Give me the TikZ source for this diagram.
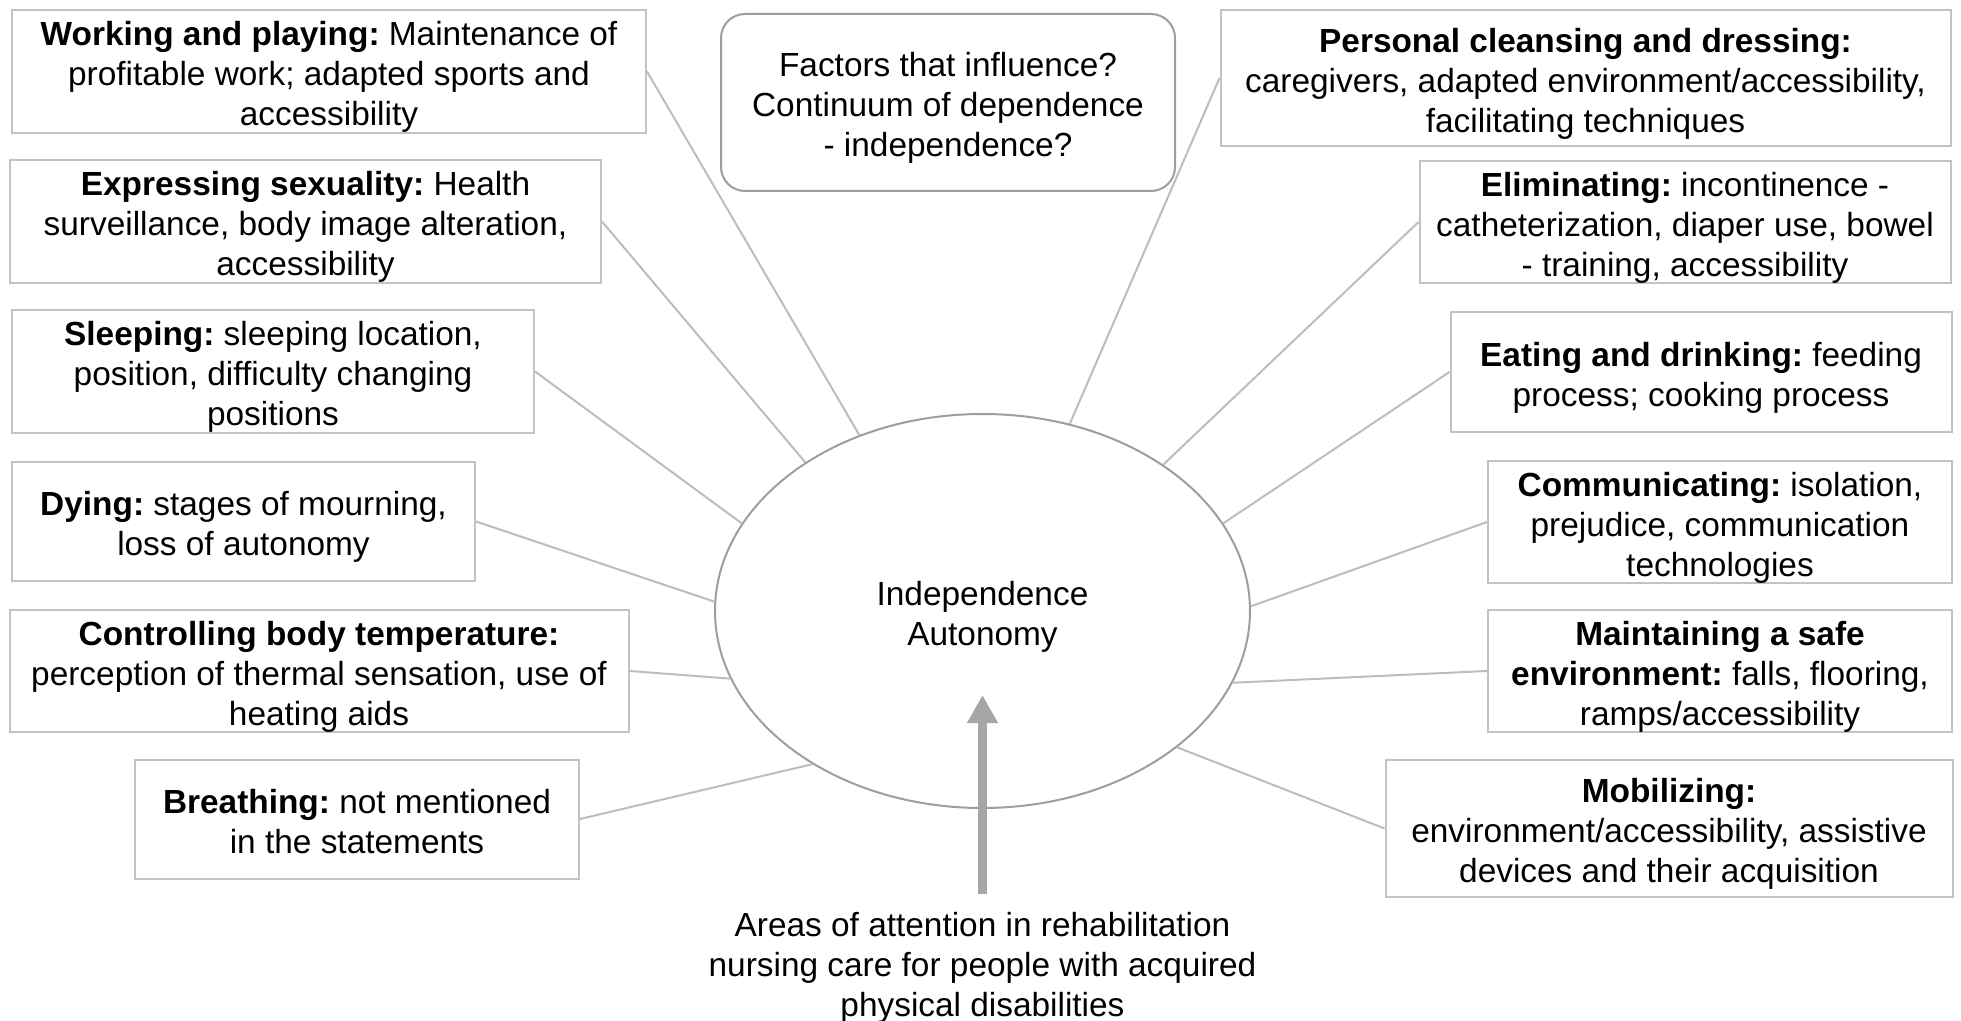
\documentclass[tikz,border=0pt]{standalone}
\usepackage{fontspec}
\setmainfont{Liberation Sans}
\usetikzlibrary{shapes.geometric,arrows.meta}
\definecolor{boxgray}{HTML}{C3C3C3}
\definecolor{linegray}{HTML}{BDBDBD}
\definecolor{ellgray}{HTML}{9E9E9E}
\definecolor{arrowgray}{HTML}{A6A6A6}
\newcommand{\st}{\rule{0pt}{1.055em}}
\newcommand{\sd}{\rule[-0.212em]{0pt}{0pt}}
\frenchspacing
\begin{document}
\begin{tikzpicture}[x=0.5pt,y=-0.5pt,
  every node/.style={font=\fontsize{16.7pt}{20pt}\selectfont\frenchspacing, align=center, inner sep=0pt},
  area/.style={draw=boxgray, line width=1pt, rectangle},
  link/.style={draw=linegray, line width=1pt}]
\useasboundingbox[fill=white] (0,0) rectangle (1961,1021);

% left column
\node[area, minimum width=317pt, minimum height=59.5pt] (work) at (329,71.5)
  {\st\textbf{Working and playing:} Maintenance of\\profitable work; adapted sports and\\accessibility\sd};
\node[area, minimum width=295.5pt, minimum height=59.5pt] (sex) at (305.5,221.5)
  {\st\textbf{Expressing sexuality:} Health\\surveillance, body image alteration,\\accessibility\sd};
\node[area, minimum width=261pt, minimum height=59.5pt] (sleep) at (273,371.5)
  {\st\textbf{Sleeping:} sleeping location,\\position, difficulty changing\\positions\sd};
\node[area, minimum width=231.5pt, minimum height=59.5pt] (dying) at (243.5,521.5)
  {\st\textbf{Dying:} stages of mourning,\\loss of autonomy\sd};
\node[area, minimum width=309.5pt, minimum height=59.5pt] (temp) at (319,671)
  {\st\textbf{Controlling body temperature:}\\perception of thermal sensation, use of\\heating aids\sd};
\node[area, minimum width=222pt, minimum height=59.5pt] (breath) at (357,819)
  {\st\textbf{Breathing:} not mentioned\\in the statements\sd};

% top centre
\node[draw=ellgray, line width=1pt, rounded corners=12pt, minimum width=227pt, minimum height=88.5pt] (factors) at (948,102.5)
  {\st Factors that influence?\\Continuum of dependence\\- independence?\sd};

% right column
\node[area, minimum width=365pt, minimum height=68pt] (personal) at (1585.5,78)
  {\st\textbf{Personal cleansing and dressing:}\\caregivers, adapted environment/accessibility,\\facilitating techniques\sd};
\node[area, minimum width=265.5pt, minimum height=59.5pt] (elim) at (1685,222)
  {\st\textbf{Eliminating:} incontinence -\\catheterization, diaper use, bowel\\- training, accessibility\sd};
\node[area, minimum width=250.5pt, minimum height=60pt] (eat) at (1701,372)
  {\st\textbf{Eating and drinking:} feeding\\process; cooking process\sd};
\node[area, minimum width=232pt, minimum height=59.5pt] (comm) at (1720,522)
  {\st\textbf{Communicating:} isolation,\\prejudice, communication\\technologies\sd};
\node[area, minimum width=232pt, minimum height=59.5pt] (safe) at (1720,671)
  {\st\textbf{Maintaining a safe}\\\textbf{environment:} falls, flooring,\\ramps/accessibility\sd};
\node[area, minimum width=283.5pt, minimum height=68.5pt] (mob) at (1669,828.5)
  {\st\textbf{Mobilizing:}\\environment/accessibility, assistive\\devices and their acquisition\sd};

% centre
\node[draw=ellgray, line width=1pt, ellipse, minimum width=267.5pt, minimum height=197pt] (ell) at (982.5,611)
  {\st Independence\\Autonomy\sd};

\node (areas) at (982.5,962)
  {\st Areas of attention in rehabilitation\\nursing care for people with acquired\\physical disabilities\sd};
\coordinate (tip) at (982.5,695);
\draw[arrowgray, line width=4.5pt, shorten <=3pt, -{Triangle[width=14.5pt,length=14pt]}] (areas.north) -- (tip);

% connectors
\draw[link] (work.east) -- (ell.125);
\draw[link] (sex.east) -- (ell.140);
\draw[link] (sleep.east) -- (ell.160);
\draw[link] (dying.east) -- (ell.178);
\draw[link] (temp.east) -- (ell.195);
\draw[link] (breath.east) -- (ell.222);
\draw[link] (personal.west) -- (ell.65);
\draw[link] (elim.west) -- (ell.39);
\draw[link] (eat.west) -- (ell.20);
\draw[link] (comm.west) -- (ell.1);
\draw[link] (safe.west) -- (ell.-16);
\draw[link] (mob.west) -- (ell.-35);
\end{tikzpicture}
\end{document}
